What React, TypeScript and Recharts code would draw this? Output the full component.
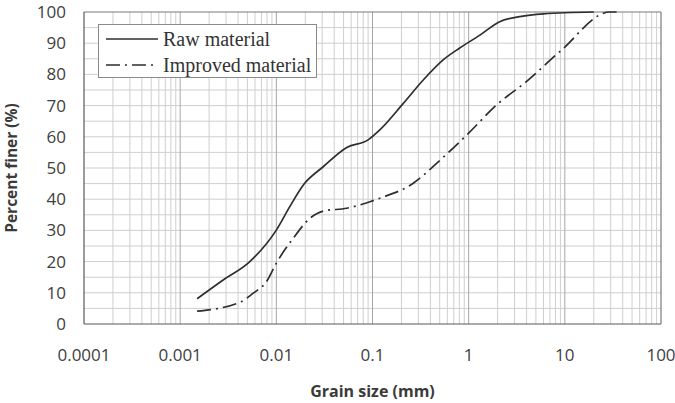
import React from "react";
import { LineChart, Line, XAxis, YAxis, ReferenceLine, Legend, Label } from "recharts";

// Grain-size distribution curves (sieve + hydrometer analysis)
const rawSize = [0.0015, 0.0028, 0.0053, 0.01, 0.0138, 0.019, 0.0307, 0.054, 0.09, 0.119, 0.209, 0.337, 0.55, 0.8, 1.31, 2.1, 3.4, 6, 20];
const rawFiner = [8.1, 14.1, 20, 30.1, 37.6, 44.5, 50.4, 56.6, 59, 62.2, 70.7, 78.2, 84.8, 88.4, 92.6, 96.9, 98.5, 99.4, 100];

const improvedSize = [0.0015, 0.0042, 0.0057, 0.0079, 0.01, 0.015, 0.0224, 0.0307, 0.054, 0.094, 0.119, 0.265, 0.464, 1.0, 1.95, 3.98, 8.87, 29.4, 38];
const improvedFiner = [4.1, 7, 9.8, 13.6, 19.5, 27.5, 33.9, 36.2, 37.1, 39.2, 40.3, 45.1, 51.5, 61.2, 70.2, 77.7, 87.3, 100, 100];

const xTicks = [0.0001, 0.001, 0.01, 0.1, 1, 10, 100];
const yTicks = [0, 10, 20, 30, 40, 50, 60, 70, 80, 90, 100];
const seriesNames = ["Raw material", "Improved material"];

const rawData = rawSize.map((d, i) => ({ d, p: rawFiner[i] }));
const improvedData = improvedSize.map((d, i) => ({ d, p: improvedFiner[i] }));

// log-cycle minor grid: 2..9 within each decade
const minorX: number[] = [];
xTicks.slice(0, -1).forEach((dec) => {
  for (let m = 2; m <= 9; m++) minorX.push(+(dec * m).toPrecision(6));
});
const minorY: number[] = [];
for (let v = 5; v < 100; v += 5) minorY.push(v);

const LINE_COLOR = "#2e2e2e";
const DASH = "14 5 2 5";
const GRID = "#cfcfcf";
const DECADE = "#a6a6a6";
const TICK_FONT = { fontFamily: "Open Sans", fontSize: 17, fill: "#404040" };

const LegendBox = () => (
  <div
    style={{
      background: "#fff",
      border: "1px solid #8a8a8a",
      width: 217,
      height: 51,
      boxSizing: "content-box",
      paddingTop: 1,
      fontFamily: "Liberation Serif",
      fontSize: 20,
      color: "#333",
    }}
  >
    {seriesNames.map((name, i) => (
      <div key={name} style={{ display: "flex", alignItems: "center", height: 26, paddingLeft: 7 }}>
        <svg width={52} height={10}>
          <line x1={0} y1={5} x2={52} y2={5} stroke={LINE_COLOR} strokeWidth={1.6} strokeDasharray={i === 1 ? DASH : undefined} />
        </svg>
        <span style={{ marginLeft: 5, lineHeight: "26px", whiteSpace: "nowrap" }}>{name}</span>
      </div>
    ))}
  </div>
);

export default function App() {
  return (
    <div style={{ position: "absolute", left: 0, top: 0, width: 675, height: 403, background: "#fff" }}>
      <LineChart width={675} height={403} margin={{ top: 12, right: 14, left: 0, bottom: 0 }}>
        <XAxis
          dataKey="d"
          type="number"
          scale="log"
          domain={[0.0001, 100]}
          ticks={xTicks}
          interval={0}
          allowDataOverflow
          tickFormatter={(v: number) => String(v)}
          tick={TICK_FONT}
          tickLine={false}
          tickSize={0}
          tickMargin={25}
          axisLine={{ stroke: "#595959", strokeWidth: 1.2 }}
          height={79}
        >
          <Label
            value="Grain size (mm)"
            position="insideBottom"
            offset={6}
            style={{ fontFamily: "Open Sans", fontWeight: 700, fontSize: 16, fill: "#3a3a3a" }}
          />
        </XAxis>
        <YAxis
          type="number"
          domain={[0, 100]}
          ticks={yTicks}
          interval={0}
          tick={TICK_FONT}
          tickLine={false}
          tickSize={0}
          tickMargin={18}
          axisLine={{ stroke: "#595959", strokeWidth: 1.2 }}
          width={84}
        >
          <Label
            value="Percent finer (%)"
            angle={-90}
            position="insideLeft"
            offset={11}
            style={{ textAnchor: "middle", fontFamily: "Open Sans", fontWeight: 700, fontSize: 15.5, fill: "#3a3a3a" }}
          />
        </YAxis>
        {minorY.map((v) => (
          <ReferenceLine key={"h" + v} y={v} stroke={GRID} strokeWidth={1} />
        ))}
        {minorX.map((v) => (
          <ReferenceLine key={"v" + v} x={v} stroke={GRID} strokeWidth={1} />
        ))}
        {xTicks.slice(1, -1).map((v) => (
          <ReferenceLine key={"d" + v} x={v} stroke={DECADE} strokeWidth={1} />
        ))}
        <ReferenceLine y={100} stroke="#7a7a7a" strokeWidth={1.2} />
        <ReferenceLine x={100} stroke="#7a7a7a" strokeWidth={1.2} />
        <Line
          data={rawData}
          dataKey="p"
          name={seriesNames[0]}
          type="monotone"
          stroke={LINE_COLOR}
          strokeWidth={1.7}
          dot={false}
          isAnimationActive={false}
        />
        <Line
          data={improvedData}
          dataKey="p"
          name={seriesNames[1]}
          type="monotone"
          stroke={LINE_COLOR}
          strokeWidth={1.7}
          strokeDasharray={DASH}
          dot={false}
          isAnimationActive={false}
        />
        <Legend
          content={<LegendBox />}
          layout="vertical"
          verticalAlign="middle"
          align="center"
          wrapperStyle={{ left: 98, top: 24, width: "auto" }}
        />
      </LineChart>
    </div>
  );
}
